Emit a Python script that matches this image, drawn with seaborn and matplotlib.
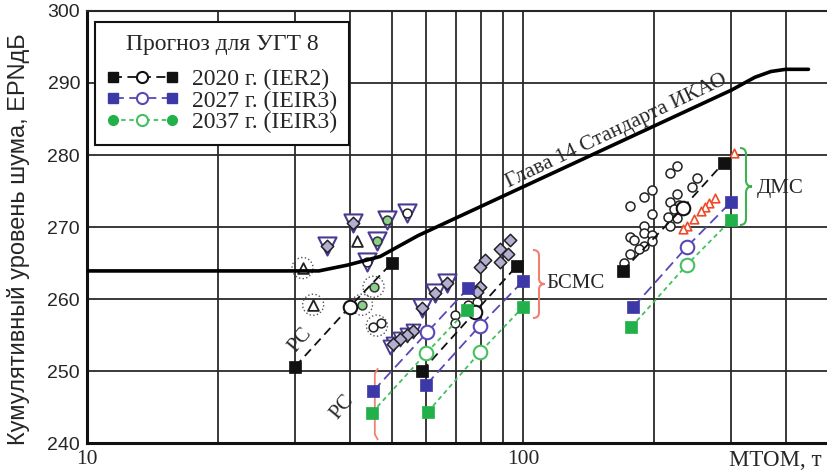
import numpy as np
import pandas as pd
import seaborn as sns
import matplotlib.pyplot as plt
from matplotlib.lines import Line2D
from matplotlib.path import Path
from matplotlib.patches import PathPatch
from matplotlib.legend_handler import HandlerBase
from matplotlib.ticker import FixedLocator, FixedFormatter, NullFormatter

# ICAO Chapter 14 limit line (MTOM, t -> cumulative EPNdB)
icao_mass = [10, 34, 39.5, 47, 57.4, 300, 340, 370, 400, 451]
icao_noise = [263.9, 263.9, 264.7, 265.9, 268.8, 289.0, 290.8, 291.6, 291.9, 291.9]

# Forecast tracks (start, middle, end) for each aircraft class
rc_mass_2020 = [30, 40, 50]
rc_noise_2020 = [250.6, 258.9, 265.0]
bcms_mass_2020 = [58.6, 77.6, 96.8]
bcms_noise_2020 = [250.0, 258.2, 264.6]
dms_mass_2020 = [169, 232, 288]
dms_noise_2020 = [263.9, 272.6, 278.9]

rc_mass_2027 = [45.3, 60.3, 74.8]
rc_noise_2027 = [247.2, 255.4, 261.5]
bcms_mass_2027 = [60, 79.6, 100]
bcms_noise_2027 = [248.1, 256.3, 262.5]
dms_mass_2027 = [179, 237, 300]
dms_noise_2027 = [258.9, 267.2, 273.5]

rc_mass_2037 = [45, 60, 74.4]
rc_noise_2037 = [244.2, 252.5, 258.5]
bcms_mass_2037 = [60.4, 79.6, 100]
bcms_noise_2037 = [244.3, 252.6, 258.9]
dms_mass_2037 = [177, 237, 300]
dms_noise_2037 = [256.1, 264.7, 271.0]

# existing aircraft
tri_mass = [35.5, 40.8, 48.7, 54.1, 46.2, 43.8, 66.8, 62.8, 58.6]
tri_noise = [267.3, 270.5, 271.0, 271.9, 268.0, 265.2, 262.2, 260.8, 258.7]
small_tri_mass = [56.0, 54.1, 52.2, 50.4, 49.5]
small_tri_noise = [255.5, 255.0, 254.5, 253.8, 253.4]
diamond_mass = [35.5, 40.8, 66.8, 62.8, 58.6, 93.3, 88.5, 92.5, 81.8, 88.5, 79.7, 79.7, 78.3,
                56.0, 54.1, 52.2, 50.4]
diamond_noise = [267.3, 270.5, 262.2, 260.8, 258.7, 268.2, 266.9, 266.3, 265.4, 265.2, 264.5, 261.7, 261.0,
                 255.5, 255.0, 254.5, 253.8]
circle_mass = [74.9, 78.3, 69.8, 69.8, 54.1, 43.8, 45.3, 47.2]
circle_noise = [259.2, 259.6, 257.8, 256.6, 271.9, 265.2, 256.1, 256.7]
green_mass = [48.7, 46.2, 45.4, 42.7]
green_noise = [271.0, 268.0, 261.7, 259.2]
up_tri_mass = [41.7, 31.2, 33.0]
up_tri_noise = [268.0, 264.3, 259.2]
ring_mass = [31.2, 33.0, 45.4, 42.7, 46.2]
ring_noise = [264.3, 259.2, 261.7, 259.2, 256.3]

dms_circle_mass = [225, 217, 251, 244, 197, 189, 176, 225, 217, 228, 222, 197, 215, 225, 189,
                   217, 176, 189, 197, 180, 189, 197, 184.5, 176, 170]
dms_circle_noise = [278.5, 277.5, 276.8, 275.6, 275.2, 274.2, 272.9, 274.6, 273.5, 273.1, 272.5, 271.8,
                    271.4, 271.2, 270.1, 270.1, 268.6, 269.1, 268.9, 268.2, 267.4, 268.1, 267.0, 266.3, 265.0]
red_tri_mass = [305, 275, 267, 261, 256, 247, 237, 232]
red_tri_noise = [280.3, 274.0, 273.3, 272.8, 272.2, 271.1, 270.1, 269.7]

years = ['2020', '2027', '2037']
legend_labels = ['2020 г. (IER2)', '2027 г. (IEIR3)', '2037 г. (IEIR3)']
year_colors = {'2020': '#111111', '2027': '#3c38a8', '2037': '#22b04a'}
line_colors = {'2020': '#111111', '2027': '#5a48b8', '2037': '#45c060'}
line_dashes = {'2020': (5, 3), '2027': (6, 3), '2037': (2.5, 2)}

rows = []
tracks = {
    '2020': [(rc_mass_2020, rc_noise_2020), (bcms_mass_2020, bcms_noise_2020), (dms_mass_2020, dms_noise_2020)],
    '2027': [(rc_mass_2027, rc_noise_2027), (bcms_mass_2027, bcms_noise_2027), (dms_mass_2027, dms_noise_2027)],
    '2037': [(rc_mass_2037, rc_noise_2037), (bcms_mass_2037, bcms_noise_2037), (dms_mass_2037, dms_noise_2037)],
}
for year, groups in tracks.items():
    for gi, (ms, ns) in enumerate(groups):
        for i, (m, n) in enumerate(zip(ms, ns)):
            rows.append({'year': year, 'group': f'{year}_{gi}', 'mass': m, 'noise': n,
                         'kind': 'mid' if i == 1 else 'end'})
df = pd.DataFrame(rows)

sns.set_style('white')
plt.rcParams['font.family'] = ['Liberation Serif', 'DejaVu Serif']

fig = plt.figure(figsize=(8.28, 4.73), dpi=100)
ax = fig.add_axes([87 / 828, 30 / 473, 741 / 828, 432 / 473])
ax.set_xscale('log')

# limit line
sns.lineplot(x=icao_mass, y=icao_noise, color='black', lw=2.6, ax=ax, zorder=6, sort=False)

# existing aircraft symbols
sns.scatterplot(x=ring_mass, y=ring_noise, marker='o', s=230, facecolor='none', edgecolor='#555555',
                linewidth=1.0, linestyle=':', ax=ax, zorder=3)
sns.scatterplot(x=tri_mass, y=tri_noise, marker='v', s=170, facecolor='white', edgecolor='#4a3a90',
                linewidth=1.5, ax=ax, zorder=3)
sns.scatterplot(x=small_tri_mass, y=small_tri_noise, marker='v', s=100, facecolor='white',
                edgecolor='#4a3a90', linewidth=1.4, ax=ax, zorder=3)
sns.scatterplot(x=diamond_mass, y=diamond_noise, marker='D', s=40, facecolor='#b4aed0', edgecolor='#222222',
                linewidth=1.1, ax=ax, zorder=4)
sns.scatterplot(x=circle_mass, y=circle_noise, marker='o', s=40, facecolor='white', edgecolor='#222222',
                linewidth=1.1, ax=ax, zorder=4)
sns.scatterplot(x=green_mass, y=green_noise, marker='o', s=40, facecolor='#8ccf8a', edgecolor='#333333',
                linewidth=1.1, ax=ax, zorder=4)
sns.scatterplot(x=up_tri_mass, y=up_tri_noise, marker='^', s=60, facecolor='white', edgecolor='#222222',
                linewidth=1.3, ax=ax, zorder=4)
sns.scatterplot(x=dms_circle_mass, y=dms_circle_noise, marker='o', s=42, facecolor='white',
                edgecolor='#222222', linewidth=1.1, ax=ax, zorder=3)
sns.scatterplot(x=red_tri_mass, y=red_tri_noise, marker='^', s=38, facecolor='white',
                edgecolor='#f04a28', linewidth=1.2, ax=ax, zorder=4)

# forecast tracks
for year in years:
    sub = df[df['year'] == year]
    sns.lineplot(data=sub, x='mass', y='noise', units='group', estimator=None, color=line_colors[year],
                 lw=1.3, ax=ax, zorder=4, legend=False)
    for ln in ax.lines[-3:]:
        ln.set_dashes(line_dashes[year])
    ends = sub[sub['kind'] == 'end']
    mids = sub[sub['kind'] == 'mid']
    sns.scatterplot(data=ends, x='mass', y='noise', marker='s', s=70, color=year_colors[year],
                    edgecolor=year_colors[year], linewidth=0.5, ax=ax, zorder=5, legend=False)
    sns.scatterplot(data=mids, x='mass', y='noise', marker='o', s=95, facecolor='white',
                    edgecolor=line_colors[year], linewidth=1.5, ax=ax, zorder=5, legend=False)

# axes
ax.set_xlim(10, 500)
ax.set_ylim(240, 300)
ax.set_yticks(range(240, 301, 10))
ax.xaxis.set_major_locator(FixedLocator([10, 100]))
ax.xaxis.set_major_formatter(FixedFormatter(['10', '100']))
ax.xaxis.set_minor_locator(FixedLocator([20, 30, 40, 50, 60, 70, 80, 90, 200, 300, 400]))
ax.xaxis.set_minor_formatter(NullFormatter())
ax.set_axisbelow(True)
ax.grid(True, which='both', axis='x', color='#2a2a2a', lw=1.3)
ax.grid(True, which='major', axis='y', color='#2a2a2a', lw=1.3)
ax.tick_params(which='both', length=0)
ax.tick_params(axis='y', pad=5, labelsize=14)
ax.tick_params(axis='x', pad=5, labelsize=15.5)
for lbl in ax.get_yticklabels():
    lbl.set_fontfamily('Liberation Sans')
for side in ['left', 'bottom']:
    ax.spines[side].set_linewidth(2.2)
    ax.spines[side].set_color('#111111')
ax.spines['top'].set_linewidth(1.5)
ax.spines['right'].set_visible(False)

ax.set_xlabel('')
ax.set_ylabel('Кумулятивный уровень шума, EPNдБ', fontsize=17, family='Liberation Sans')
ax.yaxis.set_label_coords(-0.077, 0.472)
ax.text(0.992, -0.016, 'МТОМ, т', transform=ax.transAxes, ha='right', va='top', fontsize=16.5)

# annotations
ax.text(164, 283.3, 'Глава 14 Стандарта ИКАО', rotation=25.5, rotation_mode='anchor',
        ha='center', va='center', fontsize=15.5)
ax.text(30.8, 254.3, 'РС', rotation=50, rotation_mode='anchor', ha='center', va='center', fontsize=15)
ax.text(38.5, 244.9, 'РС', rotation=50, rotation_mode='anchor', ha='center', va='center', fontsize=15)
ax.text(113, 262.2, 'БСМС', ha='left', va='center', fontsize=15)
ax.text(344, 275.4, 'ДМС', ha='left', va='center', fontsize=15)


def brace(x0_px, x1_px, y0_px, y1_px, color):
    # curly brace opening to the right, given in reference pixels (top-left origin)
    x0 = (x0_px - 87) / 741
    x1 = (x1_px - 87) / 741
    ya = (443 - y0_px) / 432
    yb = (443 - y1_px) / 432
    ym = (ya + yb) / 2
    xh = (x0 + x1) / 2
    r = (ya - yb) * 0.08
    verts = [(x0, ya), (xh, ya), (xh, ya - r), (xh, ym + r), (xh, ym), (x1, ym),
             (xh, ym), (xh, ym - r), (xh, yb + r), (xh, yb), (x0, yb)]
    codes = [Path.MOVETO, Path.CURVE3, Path.CURVE3, Path.LINETO, Path.CURVE3, Path.CURVE3,
             Path.CURVE3, Path.CURVE3, Path.LINETO, Path.CURVE3, Path.CURVE3]
    ax.add_patch(PathPatch(Path(verts, codes), transform=ax.transAxes, fill=False,
                           edgecolor=color, lw=1.5, zorder=5, clip_on=False))


brace(533, 545, 250, 318, '#f08070')
brace(740, 752, 148, 225, '#40b050')
ax.plot([46.4, 45.7, 45.7, 46.4], [250.3, 249.6, 241.2, 240.5], color='#f08070', lw=1.3, zorder=3)


# legend
class TrackHandler(HandlerBase):
    def __init__(self, color, line_color, end_marker, dashes):
        super().__init__()
        self.color = color
        self.line_color = line_color
        self.end_marker = end_marker
        self.dashes = dashes

    def create_artists(self, legend, orig_handle, xdescent, ydescent, width, height, fontsize, trans):
        y = height / 2 - ydescent
        x0 = -xdescent + 4
        x1 = -xdescent + width - 4
        xm = (x0 + x1) / 2
        ln = Line2D([x0, x1], [y, y], color=self.line_color, lw=1.3)
        ln.set_dashes(self.dashes)
        ends = Line2D([x0, x1], [y, y], ls='none', marker=self.end_marker, ms=7,
                      color=self.color, mec=self.color)
        mid = Line2D([xm], [y], ls='none', marker='o', ms=8, mfc='white', mec=self.line_color, mew=1.5)
        for a in (ln, ends, mid):
            a.set_transform(trans)
        return [ln, ends, mid]


handles = [Line2D([], [], color=year_colors[y]) for y in years]
handler_map = {}
for y, h in zip(years, handles):
    handler_map[h] = TrackHandler(year_colors[y], line_colors[y], 'o' if y == '2037' else 's', line_dashes[y])
leg = ax.legend(handles, legend_labels, handler_map=handler_map, title='Прогноз для УГТ 8',
                loc='upper left', bbox_to_anchor=(0.011, 0.975), borderaxespad=0, fontsize=17,
                title_fontsize=17, frameon=True, fancybox=False, framealpha=1, edgecolor='#111111',
                handlelength=3.0, handletextpad=0.6, labelspacing=0.0, borderpad=0.5)
leg._legend_box.sep = 10
leg.get_frame().set_linewidth(1.5)
leg.set_zorder(10)

fig.savefig('out.png', dpi=100)
